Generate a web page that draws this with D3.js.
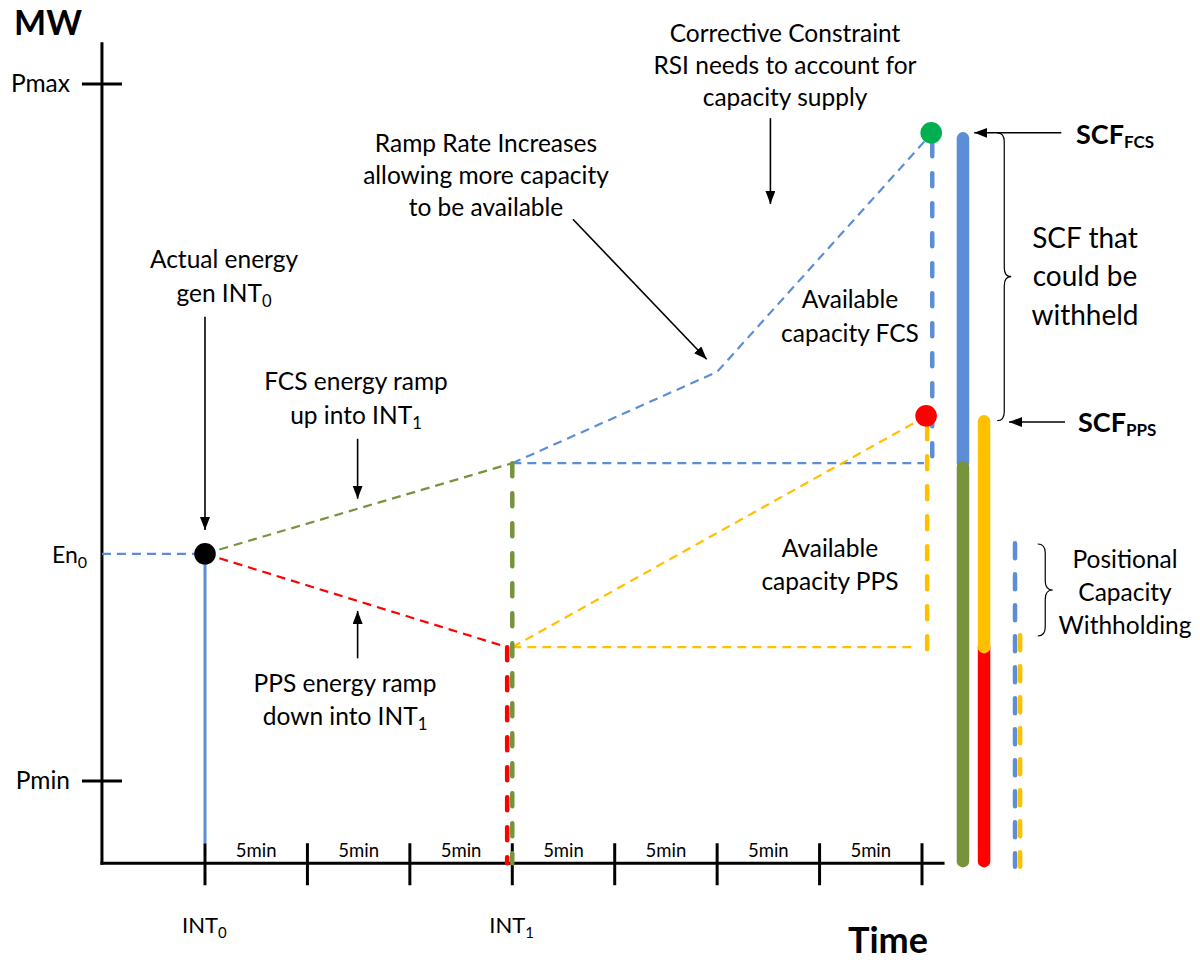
<!DOCTYPE html>
<html>
<head>
<meta charset="utf-8">
<script src="https://cdn.jsdelivr.net/npm/d3@7/dist/d3.min.js"></script>
<style>
  html, body { margin: 0; padding: 0; background: #ffffff; }
  svg { display: block; }
  text { font-family: Lato, "Open Sans", sans-serif; fill: #000; }
</style>
</head>
<body>
<svg id="chart" width="1200" height="962"></svg>
<script>
// ---------------- data ----------------
const minuteTicks = [0, 5, 10, 15, 20, 25, 30, 35];
const intervalLabels = ["5min", "5min", "5min", "5min", "5min", "5min", "5min"];
const intervalNames = [{ t: 0, name: "INT", sub: "0" }, { t: 15, name: "INT", sub: "1" }];
const levelNames = ["Pmax", "Pmin"];
const levelValues = [100, 0];
const en0 = 32.6;                                   // actual energy at INT0
const fcsRampUp = [[0, 32.6], [15, 45.6]];          // green: FCS ramp into INT1
const ppsRampDown = [[0, 32.6], [14.75, 19.2]];     // red: PPS ramp into INT1
const fcsAvailable = [[15, 45.6], [25, 58.7], [35.5, 93]];   // blue
const ppsAvailable = [[15, 19.2], [35.25, 52.4]];            // yellow
const scfFcs = 93;
const scfPps = 52.4;
const fcsBase = 45.6;
const ppsBase = 19.2;
const positionalFcs = 34.1;
const positionalPps = 20.9;

// ---------------- scales ----------------
const svg = d3.select("#chart");
const x = d3.scaleLinear().domain([0, 35]).range([205, 922]);
const y = d3.scaleLinear().domain([0, 100]).range([781, 84]);
const tMin = -5.03, tMax = 36.1;     // axis extents (minutes)
const vMin = -11.8, vMax = 106;      // axis extents (MW)

const C = {
  blue: "#5B8ED6", green: "#77933C", red: "#FF0000",
  yellow: "#FFC000", dotGreen: "#00B050", black: "#000"
};
const FS = 24.5;

// marker
const defs = svg.append("defs");
defs.append("marker").attr("id", "arrow")
  .attr("markerUnits", "userSpaceOnUse")
  .attr("markerWidth", 14).attr("markerHeight", 12)
  .attr("refX", 13).attr("refY", 5).attr("orient", "auto")
  .append("path").attr("d", "M0,0 L13,5 L0,10 Z").attr("fill", "#000");

const line = d3.line().x(d => x(d[0])).y(d => y(d[1]));

// ---------------- axes ----------------
const gAxes = svg.append("g");
gAxes.append("line").attr("x1", x(tMin)).attr("x2", x(tMin))
  .attr("y1", y(vMax)).attr("y2", y(vMin) + 1.5)
  .attr("stroke", "#000").attr("stroke-width", 3);
gAxes.append("line").attr("x1", x(tMin) - 1.5).attr("x2", x(tMax))
  .attr("y1", y(vMin)).attr("y2", y(vMin))
  .attr("stroke", "#000").attr("stroke-width", 3);

// y ticks
levelValues.forEach((v, i) => {
  gAxes.append("line").attr("x1", x(tMin) - 20).attr("x2", x(tMin) + 20)
    .attr("y1", y(v)).attr("y2", y(v)).attr("stroke", "#000").attr("stroke-width", 3);
  gAxes.append("text").attr("x", x(tMin) - 32).attr("y", y(v) + 8)
    .attr("text-anchor", "end").attr("font-size", FS).text(levelNames[i]);
});

// En0 label
const en0Text = gAxes.append("text").attr("x", 52).attr("y", y(en0) + 9).attr("font-size", 23);
en0Text.append("tspan").text("En");
en0Text.append("tspan").attr("font-size", 16).attr("dy", 5).text("0");

// x ticks
minuteTicks.forEach(t => {
  gAxes.append("line").attr("x1", x(t)).attr("x2", x(t))
    .attr("y1", y(vMin) - 20).attr("y2", y(vMin) + 22)
    .attr("stroke", "#000").attr("stroke-width", 3);
});
intervalLabels.forEach((lab, i) => {
  gAxes.append("text").attr("x", (x(minuteTicks[i]) + x(minuteTicks[i + 1])) / 2)
    .attr("y", y(vMin) - 6).attr("text-anchor", "middle").attr("font-size", 18.5).text(lab);
});
intervalNames.forEach(d => {
  const tx = gAxes.append("text").attr("x", x(d.t) - 23).attr("y", 933).attr("font-size", 22);
  tx.append("tspan").text(d.name);
  tx.append("tspan").attr("font-size", 15).attr("dy", 5).text(d.sub);
});

svg.append("text").attr("x", 14).attr("y", 35).attr("font-size", 34)
  .attr("font-weight", "bold").text("MW");
svg.append("text").attr("x", 848).attr("y", 953).attr("font-size", 36)
  .attr("font-weight", "bold").text("Time");

// ---------------- thin dashed lines ----------------
const thin = (pts, col) => svg.append("path").attr("d", line(pts)).attr("fill", "none")
  .attr("stroke", col).attr("stroke-width", 2.2).attr("stroke-dasharray", "9,6");

thin([[tMin, en0], [0, en0]], C.blue);
thin([[15, fcsBase], [35.1, fcsBase]], C.blue);
thin([[15, ppsBase], [34.6, ppsBase]], C.yellow);
thin(fcsRampUp, C.green);
thin(ppsRampDown, C.red);
thin(fcsAvailable, C.blue);
thin(ppsAvailable, C.yellow);

// actual energy solid line
svg.append("line").attr("x1", x(0)).attr("x2", x(0)).attr("y1", y(en0)).attr("y2", y(vMin) - 20)
  .attr("stroke", C.blue).attr("stroke-width", 3);

// ---------------- thick dashed verticals ----------------
const thick = (t, v1, v2, col, dash) => svg.append("line")
  .attr("x1", x(t)).attr("x2", x(t)).attr("y1", y(v1)).attr("y2", y(v2))
  .attr("stroke", col).attr("stroke-width", 4.5).attr("stroke-linecap", "round")
  .attr("stroke-dasharray", dash || "13,17");

thick(14.75, ppsBase, vMin, C.red);
thick(15, fcsBase, vMin, C.green);
thick(35.5, scfFcs - 1.5, 46.3, C.blue);
thick(35.25, scfPps - 1.5, 18.5, C.yellow);

// positional capacity withholding
thick(39.54, positionalFcs, vMin - 0.5, C.blue, "15,16");
thick(39.79, positionalPps, vMin - 0.5, C.yellow, "15,16");

// ---------------- SCF bars ----------------
const bar = (t, v1, v2, col) => svg.append("line")
  .attr("x1", x(t)).attr("x2", x(t)).attr("y1", y(v1)).attr("y2", y(v2))
  .attr("stroke", col).attr("stroke-width", 12.5).attr("stroke-linecap", "round");

bar(37.0, scfFcs - 0.8, fcsBase, C.blue);
bar(37.0, fcsBase - 0.6, vMin + 0.3, C.green);
bar(38.03, ppsBase, vMin + 0.3, C.red);
bar(38.03, scfPps - 0.8, ppsBase, C.yellow);

// ---------------- dots ----------------
const dots = [[0, en0, C.black], [35.45, scfFcs, C.dotGreen], [35.2, scfPps, C.red]];
dots.forEach(d => svg.append("circle").attr("cx", x(d[0])).attr("cy", y(d[1]))
  .attr("r", 10.8).attr("fill", d[2]));

// ---------------- arrows ----------------
const arrows = [
  [[0, 66.6], [0, 36.0]],
  [[7.45, 49.1], [7.45, 40.5]],
  [[7.45, 17.6], [7.45, 24.4]],
  [[17.96, 80.6], [24.49, 60.5]],
  [[27.6, 95.1], [27.6, 82.8]],
  [[41.8, scfFcs], [37.55, scfFcs]],
  [[41.98, 51.5], [39.25, 51.5]]
];
arrows.forEach(a => svg.append("path").attr("d", line(a))
  .attr("stroke", "#000").attr("stroke-width", 1.6).attr("fill", "none")
  .attr("marker-end", "url(#arrow)"));

// ---------------- braces ----------------
function brace(x0, yTop, yBot, w, q) {
  const ym = (yTop + yBot) / 2, xm = x0 + w / 2;
  return `M${x0},${yTop} Q${xm},${yTop} ${xm},${yTop + q} L${xm},${ym - q} Q${xm},${ym} ${x0 + w},${ym}`
    + ` Q${xm},${ym} ${xm},${ym + q} L${xm},${yBot - q} Q${xm},${yBot} ${x0},${yBot}`;
}
svg.append("path").attr("d", brace(x(37.6) + 22, y(scfFcs), y(51.7), 14, 9))
  .attr("fill", "none").attr("stroke", "#000").attr("stroke-width", 1.2);
svg.append("path").attr("d", brace(x(40.65), y(34.0), y(20.8), 15, 9))
  .attr("fill", "none").attr("stroke", "#000").attr("stroke-width", 1.2);

// ---------------- text annotations ----------------
function block(cx, baselines, lines, size) {
  const s = size || FS;
  lines.forEach((ln, i) => {
    const t = svg.append("text").attr("x", cx).attr("y", baselines[i])
      .attr("text-anchor", "middle").attr("font-size", s);
    ln.forEach(part => {
      if (typeof part === "string") t.append("tspan").text(part);
      else t.append("tspan").attr("font-size", s * 0.68).attr("dy", 5).text(part.sub);
    });
  });
}
block(785, [42, 74, 106], [["Corrective Constraint"], ["RSI needs to account for"], ["capacity supply"]]);
block(486, [152, 184, 216], [["Ramp Rate Increases"], ["allowing more capacity"], ["to be available"]]);
block(224, [268, 302], [["Actual energy"], ["gen INT", { sub: "0" }]]);
block(356, [390, 424], [["FCS energy ramp"], ["up into INT", { sub: "1" }]]);
block(345, [692, 725], [["PPS energy ramp"], ["down into INT", { sub: "1" }]]);
block(850, [308, 342], [["Available"], ["capacity FCS"]]);
block(830, [557, 590], [["Available"], ["capacity PPS"]]);
block(1085, [248, 286, 325], [["SCF that"], ["could be"], ["withheld"]], 28);
block(1125, [568, 601, 634], [["Positional"], ["Capacity"], ["Withholding"]]);

function scfLabel(xl, yb, sub) {
  const t = svg.append("text").attr("x", xl).attr("y", yb).attr("font-size", 27).attr("font-weight", "bold");
  t.append("tspan").text("SCF");
  t.append("tspan").attr("font-size", 17).attr("dy", 4).text(sub);
}
scfLabel(1076, 144, "FCS");
scfLabel(1078, 432, "PPS");
</script>
</body>
</html>
